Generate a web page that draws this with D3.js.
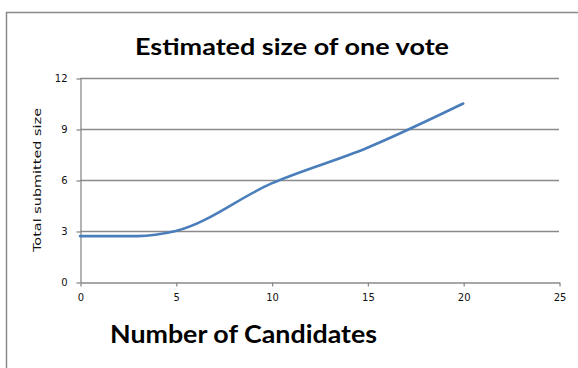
<!DOCTYPE html>
<html>
<head>
<meta charset="utf-8">
<script src="https://cdn.jsdelivr.net/npm/d3@7"></script>
<style>
  body { margin: 0; background: #fff; }
  svg { display: block; }
</style>
</head>
<body>
<svg id="chart" width="578" height="368"></svg>
<script>
// data
const candidates = [0, 3, 5, 10, 15, 20];
const voteSize = [2.7, 2.7, 3.0, 5.8, 7.9, 10.5];
const xTicks = [0, 5, 10, 15, 20, 25];
const yTicks = [0, 3, 6, 9, 12];

const svg = d3.select("#chart");
const gray = "#8a8a8a";

// outer chart frame (right / bottom run off the picture)
svg.append("rect")
  .attr("x", 6.5).attr("y", 12.5)
  .attr("width", 600).attr("height", 400)
  .attr("fill", "none").attr("stroke", gray).attr("stroke-width", 1.5);

const x = d3.scaleLinear().domain([0, 25]).range([80, 559]);
const y = d3.scaleLinear().domain([0, 12]).range([282, 78]);

// gridlines
svg.append("g")
  .selectAll("line")
  .data(yTicks.filter(d => d > 0))
  .join("line")
  .attr("x1", x(0)).attr("x2", x(25))
  .attr("y1", d => Math.round(y(d)) + 0.5).attr("y2", d => Math.round(y(d)) + 0.5)
  .attr("stroke", gray).attr("stroke-width", 1.3);

// axes
const yAxis = svg.append("g")
  .attr("transform", `translate(${x(0) + 0.5},0.5)`)
  .call(d3.axisLeft(y).tickValues(yTicks).tickSize(4).tickSizeOuter(0));
const xAxis = svg.append("g")
  .attr("transform", `translate(0.5,${y(0) + 0.5})`)
  .call(d3.axisBottom(x).tickValues(xTicks).tickSize(4).tickSizeOuter(0));

[xAxis, yAxis].forEach(g => {
  g.select(".domain").attr("stroke", gray).attr("stroke-width", 1.3);
  g.selectAll(".tick line").attr("stroke", gray).attr("stroke-width", 1.3);
  g.selectAll(".tick text")
    .attr("fill", "#111")
    .style("font-family", "'DejaVu Sans', Verdana, sans-serif")
    .style("font-size", "10px");
});
yAxis.selectAll(".tick text").attr("x", -13);
xAxis.selectAll(".tick text").attr("y", 11);

// the series
const line = d3.line()
  .x((d, i) => x(candidates[i]))
  .y(d => y(d))
  .curve(d3.curveMonotoneX);

svg.append("path")
  .datum(voteSize)
  .attr("d", line)
  .attr("fill", "none")
  .attr("stroke", "#4a7ebb")
  .attr("stroke-width", 2.6)
  .attr("stroke-linecap", "round");

// titles
svg.append("text")
  .attr("x", 135).attr("y", 55)
  .attr("textLength", 314).attr("lengthAdjust", "spacingAndGlyphs")
  .style("font-family", "Lato, 'Open Sans', sans-serif")
  .style("font-weight", "bold").style("font-size", "23px")
  .attr("fill", "#000")
  .text("Estimated size of one vote");

svg.append("text")
  .attr("x", 110).attr("y", 343)
  .attr("textLength", 267).attr("lengthAdjust", "spacingAndGlyphs")
  .style("font-family", "Lato, 'Open Sans', sans-serif")
  .style("font-weight", "bold").style("font-size", "24px")
  .attr("fill", "#000")
  .text("Number of Candidates");

svg.append("text")
  .attr("transform", "translate(41,252) rotate(-90)")
  .attr("textLength", 144).attr("lengthAdjust", "spacingAndGlyphs")
  .style("font-family", "'DejaVu Sans', Verdana, sans-serif")
  .style("font-size", "10px")
  .attr("fill", "#111")
  .text("Total submitted size");
</script>
</body>
</html>
